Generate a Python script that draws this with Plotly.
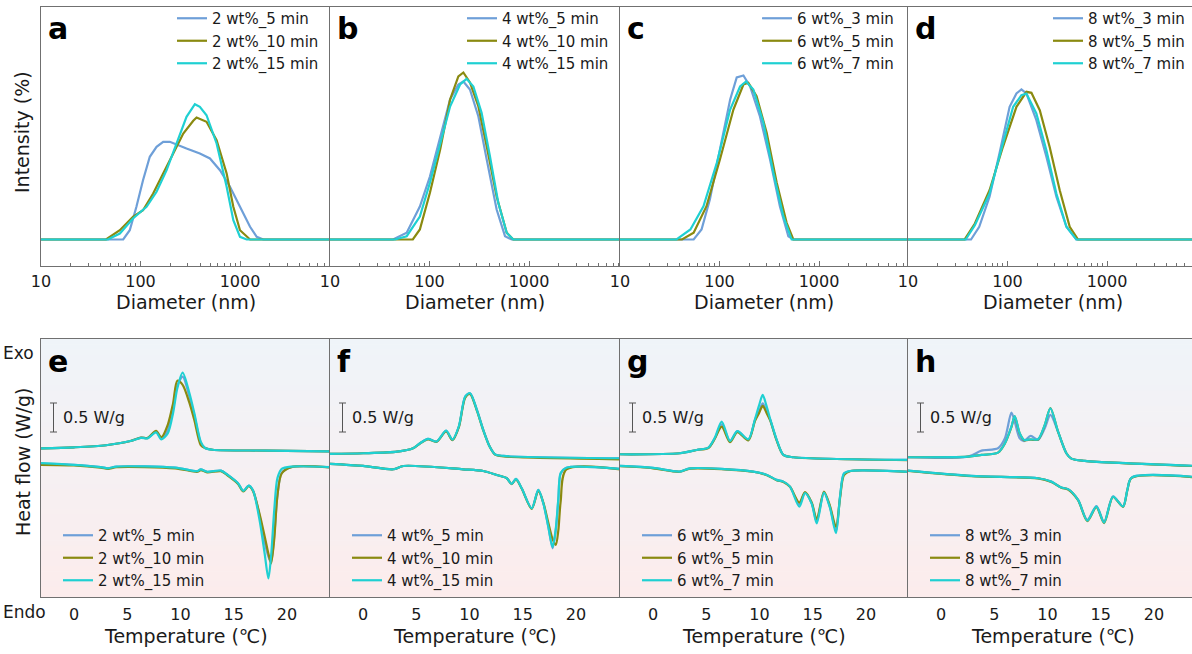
import plotly.graph_objects as go

# ======================= DATA =======================
# --- DLS (top row): diameter (nm) / intensity (%) ---
A_D5 = [67, 78, 91, 106, 124, 145, 169, 197, 230, 290, 395, 499, 629, 793, 1000, 1262, 1472, 1718]
A_I5 = [0, 0.93, 3.27, 5.93, 8.27, 9.27, 9.77, 9.77, 9.53, 9.1, 8.6, 8.1, 6.93, 5.27, 3.27, 1.27, 0.27, 0]
A_D10 = [45, 62, 84, 106, 134, 169, 213, 269, 339, 366, 461, 582, 734, 857, 1000, 1262]
A_I10 = [0, 0.93, 2.27, 2.93, 4.6, 6.6, 8.6, 10.6, 11.87, 12.2, 11.77, 9.93, 6.6, 3.27, 0.93, 0]
A_D15 = [47, 62, 84, 115, 145, 183, 230, 290, 352, 395, 461, 582, 734, 857, 1000, 1167]
A_I15 = [0, 0.6, 2.1, 3.27, 4.77, 6.93, 9.6, 12.27, 13.53, 13.27, 12.43, 9.6, 5.27, 1.93, 0.27, 0]

B_D5 = [43, 59, 80, 101, 128, 161, 195, 219, 255, 310, 376, 473, 574, 670]
B_I5 = [0, 0.67, 3.3, 6.3, 10.3, 14.0, 15.5, 15.8, 15.0, 12.3, 8.0, 3.0, 0.33, 0]
B_D10 = [68, 80, 101, 128, 161, 195, 219, 255, 310, 376, 473, 597, 695]
B_I10 = [0, 1.0, 4.67, 9.0, 14.0, 16.3, 16.7, 15.7, 13.3, 9.3, 4.3, 0.67, 0]
B_D15 = [45, 59, 80, 101, 128, 161, 203, 236, 276, 334, 405, 491, 597, 695]
B_I15 = [0, 0.33, 2.3, 5.67, 9.67, 13.3, 15.5, 16.07, 15.3, 12.67, 8.33, 3.67, 0.67, 0]

C_D3 = [55, 66, 80, 101, 128, 149, 174, 203, 255, 322, 405, 492, 552]
C_I3 = [0, 1.0, 4.0, 9.0, 14.0, 16.2, 16.4, 15.3, 12.3, 8.0, 3.3, 0.33, 0]
C_D5 = [42, 55, 74, 101, 138, 174, 195, 236, 298, 376, 473, 552]
C_I5 = [0, 0.67, 3.33, 8.0, 13.0, 15.5, 15.67, 14.33, 10.67, 5.67, 1.67, 0]
C_D7 = [37, 51, 69, 94, 128, 161, 185, 219, 276, 348, 438, 531]
C_I7 = [0, 1.0, 3.33, 7.67, 13.0, 15.3, 15.8, 15.0, 11.67, 6.67, 2.33, 0]

D_D3 = [43, 52, 66, 83, 105, 123, 138, 155, 195, 246, 310, 391, 492]
D_I3 = [0, 1.27, 4.27, 8.6, 13.27, 14.6, 15.0, 14.6, 11.93, 8.27, 4.27, 1.27, 0]
D_D5 = [37, 47, 66, 90, 123, 155, 174, 211, 265, 335, 422, 512]
D_I5 = [0, 1.6, 4.93, 9.27, 13.27, 14.77, 14.67, 12.93, 9.27, 4.93, 1.27, 0]
D_D7 = [38, 47, 66, 90, 114, 138, 155, 195, 246, 310, 391, 492]
D_I7 = [0, 1.43, 4.6, 9.6, 13.27, 14.43, 14.6, 12.6, 8.93, 4.6, 1.27, 0]

DLS_BASE_D = [9, 10000]   # flat zero baseline ends

# --- DSC (bottom row): temperature (degC) / heat flow (W/g) ---
E_TC = [-3.1, 0, 3, 5.3, 6.3, 6.9, 7.7, 8.2, 8.8, 9.3, 9.7, 10.2, 10.8, 11.3, 11.9, 12.3, 13, 18, 24.2]
E_C5 = [-0.435, -0.418, -0.383, -0.31, -0.25, -0.26, -0.15, -0.26, -0.12, 0.24, 0.64, 0.80, 0.48, 0.13, -0.34, -0.43, -0.46, -0.475, -0.49]
E_C10 = [-0.435, -0.418, -0.383, -0.31, -0.25, -0.257, -0.136, -0.245, -0.03, 0.34, 0.73, 0.66, 0.37, 0.05, -0.38, -0.43, -0.46, -0.475, -0.49]
E_C15 = [-0.435, -0.418, -0.383, -0.31, -0.255, -0.265, -0.16, -0.28, -0.18, 0.17, 0.60, 0.87, 0.54, 0.17, -0.32, -0.43, -0.46, -0.475, -0.49]
E_TH = [-3.1, 0, 2.5, 3.2, 4, 9.5, 11.6, 11.9, 12.5, 13.8, 14.4, 15.4, 15.9, 16.4, 16.8, 17.4, 17.9, 18.25, 18.5, 18.8, 19.1, 19.5, 20.4, 24.2]
E_H5 = [-0.70, -0.72, -0.76, -0.78, -0.75, -0.77, -0.83, -0.80, -0.84, -0.82, -0.89, -1.04, -1.17, -1.08, -1.16, -1.58, -2.05, -2.30, -2.40, -1.95, -1.25, -0.86, -0.76, -0.765]
E_H10 = [-0.72, -0.73, -0.77, -0.79, -0.76, -0.78, -0.84, -0.81, -0.85, -0.83, -0.90, -1.05, -1.18, -1.09, -1.17, -1.55, -1.95, -2.25, -2.42, -2.0, -1.25, -0.87, -0.76, -0.765]
E_H15 = [-0.69, -0.72, -0.76, -0.78, -0.75, -0.77, -0.83, -0.80, -0.84, -0.82, -0.89, -1.04, -1.17, -1.08, -1.16, -1.65, -2.25, -2.68, -2.3, -1.5, -0.95, -0.79, -0.75, -0.76]

F_TC = [-3.1, 0, 3.2, 4.7, 5.35, 6.1, 6.9, 7.8, 8.4, 9.0, 9.6, 10.05, 10.7, 11.3, 11.9, 12.4, 13.2, 24.2]
F_C5 = [-0.533, -0.521, -0.493, -0.435, -0.349, -0.274, -0.32, -0.136, -0.29, -0.061, 0.456, 0.513, 0.226, -0.119, -0.406, -0.54, -0.567, -0.607]
F_C10 = [-0.533, -0.521, -0.493, -0.435, -0.352, -0.28, -0.325, -0.145, -0.295, -0.07, 0.44, 0.50, 0.21, -0.13, -0.41, -0.545, -0.575, -0.625]
F_C15 = [-0.533, -0.521, -0.493, -0.435, -0.349, -0.272, -0.318, -0.13, -0.285, -0.055, 0.46, 0.515, 0.22, -0.125, -0.41, -0.54, -0.567, -0.607]
F_TH = [-3.1, 0, 2.85, 3.8, 9.4, 11.3, 12.55, 13.5, 13.96, 14.36, 14.9, 15.84, 16.46, 16.93, 17.4, 17.8, 18.1, 18.34, 18.56, 19.1, 24.2]
F_H5 = [-0.705, -0.74, -0.797, -0.74, -0.797, -0.826, -0.895, -0.952, -1.05, -0.964, -1.125, -1.47, -1.153, -1.383, -1.79, -2.16, -1.85, -1.33, -0.87, -0.77, -0.79]
F_H10 = [-0.705, -0.74, -0.797, -0.74, -0.797, -0.826, -0.895, -0.952, -1.055, -0.97, -1.13, -1.48, -1.17, -1.37, -1.72, -2.0, -2.10, -1.85, -1.35, -0.80, -0.80]
F_H15 = [-0.705, -0.74, -0.797, -0.74, -0.797, -0.826, -0.895, -0.952, -1.05, -0.964, -1.125, -1.47, -1.15, -1.383, -1.79, -2.14, -1.82, -1.30, -0.86, -0.77, -0.79]

G_TC = [-3.1, 2.5, 4.1, 5.2, 5.8, 6.45, 7.23, 7.92, 8.95, 9.58, 9.95, 10.3, 10.65, 11.0, 11.6, 12.24, 13.2, 24.2]
G_C3 = [-0.538, -0.521, -0.464, -0.424, -0.263, -0.02, -0.31, -0.14, -0.285, 0.06, 0.20, 0.34, 0.21, 0.06, -0.29, -0.55, -0.59, -0.636]
G_C5 = [-0.538, -0.521, -0.464, -0.43, -0.27, -0.061, -0.33, -0.155, -0.30, 0.04, 0.17, 0.295, 0.18, 0.045, -0.295, -0.55, -0.59, -0.64]
G_C7 = [-0.538, -0.521, -0.464, -0.424, -0.255, 0.025, -0.31, -0.14, -0.28, 0.07, 0.30, 0.485, 0.30, 0.07, -0.28, -0.55, -0.59, -0.636]
G_TH = [-3.1, 0, 2.5, 3.5, 9.4, 10.7, 11.6, 12.24, 12.86, 13.74, 14.27, 14.9, 15.37, 16.05, 16.6, 17.18, 17.56, 17.93, 18.5, 24.2]
G_H3 = [-0.74, -0.774, -0.837, -0.78, -0.837, -0.895, -0.98, -1.01, -1.096, -1.40, -1.20, -1.383, -1.70, -1.194, -1.44, -1.86, -1.27, -0.87, -0.826, -0.843]
G_H5 = [-0.745, -0.78, -0.84, -0.785, -0.84, -0.9, -0.985, -1.015, -1.10, -1.37, -1.19, -1.37, -1.66, -1.18, -1.42, -1.79, -1.30, -0.90, -0.83, -0.845]
G_H7 = [-0.74, -0.774, -0.837, -0.78, -0.837, -0.895, -0.98, -1.01, -1.096, -1.44, -1.21, -1.39, -1.73, -1.20, -1.45, -1.90, -1.27, -0.87, -0.826, -0.843]

H_TC = [-3.1, 2.54, 3.8, 5.35, 6.0, 6.61, 6.92, 7.39, 7.8, 8.42, 9.11, 9.74, 10.27, 10.99, 11.77, 12.24, 13.5, 24.2]
H_C3 = [-0.59, -0.579, -0.475, -0.435, -0.263, 0.18, 0.025, -0.263, -0.31, -0.22, -0.29, -0.09, 0.14, -0.148, -0.52, -0.613, -0.653, -0.74]
H_C5 = [-0.59, -0.579, -0.55, -0.51, -0.35, -0.07, 0.115, -0.18, -0.295, -0.285, -0.285, -0.035, 0.26, -0.15, -0.52, -0.613, -0.653, -0.745]
H_C7 = [-0.59, -0.579, -0.55, -0.51, -0.349, -0.061, 0.122, -0.176, -0.29, -0.28, -0.28, -0.033, 0.255, -0.148, -0.52, -0.613, -0.653, -0.74]
H_TH = [-3.1, 2.85, 9.11, 10.36, 11.3, 11.93, 12.87, 13.74, 14.59, 15.31, 16.15, 17.09, 17.5, 17.9, 24.2]
H_H3 = [-0.82, -0.912, -0.952, -1.01, -1.113, -1.14, -1.326, -1.67, -1.43, -1.70, -1.265, -1.435, -1.15, -0.94, -0.935]
H_H5 = [-0.825, -0.915, -0.955, -1.015, -1.115, -1.145, -1.33, -1.69, -1.45, -1.725, -1.275, -1.445, -1.155, -0.945, -0.94]
H_H7 = [-0.82, -0.912, -0.952, -1.01, -1.113, -1.14, -1.326, -1.682, -1.44, -1.717, -1.27, -1.44, -1.15, -0.94, -0.935]

TOP_NAMES = [["2 wt%_5 min", "2 wt%_10 min", "2 wt%_15 min"],
             ["4 wt%_5 min", "4 wt%_10 min", "4 wt%_15 min"],
             ["6 wt%_3 min", "6 wt%_5 min", "6 wt%_7 min"],
             ["8 wt%_3 min", "8 wt%_5 min", "8 wt%_7 min"]]
TOP_LETTERS = ["a", "b", "c", "d"]
BOT_LETTERS = ["e", "f", "g", "h"]
TOP_DATA = [[(A_D5, A_I5), (A_D10, A_I10), (A_D15, A_I15)],
            [(B_D5, B_I5), (B_D10, B_I10), (B_D15, B_I15)],
            [(C_D3, C_I3), (C_D5, C_I5), (C_D7, C_I7)],
            [(D_D3, D_I3), (D_D5, D_I5), (D_D7, D_I7)]]
BOT_DATA = [(E_TC, [E_C5, E_C10, E_C15], E_TH, [E_H5, E_H10, E_H15]),
            (F_TC, [F_C5, F_C10, F_C15], F_TH, [F_H5, F_H10, F_H15]),
            (G_TC, [G_C3, G_C5, G_C7], G_TH, [G_H3, G_H5, G_H7]),
            (H_TC, [H_C3, H_C5, H_C7], H_TH, [H_H3, H_H5, H_H7])]

TOP_TICKS = [10, 100, 1000]
TOP_TICKTEXT = ["10", "100", "1000"]
TOP_MINOR = [20, 30, 40, 50, 60, 70, 80, 90, 200, 300, 400, 500, 600, 700, 800, 900,
             2000, 3000, 4000, 5000, 6000, 7000, 8000, 9000]
BOT_TICKS = [0, 5, 10, 15, 20]
SCALE_BAR = 0.5

COLORS = ["#6e9fd8", "#8a8a10", "#1fd0d2"]

# ======================= LAYOUT GEOMETRY =======================
W, H = 1192, 654
X_EDGES = [41, 330, 620, 908, 1192]
TOP_PX = (7, 265.5)
BOT_PX = (339, 597)
DEC_PX = 99.5          # px per decade (top)
DEG_PX = 10.65         # px per degC (bottom)
T_MIN = -3.1
TOP_YR = [-2.6, 23.25]
BOT_YR = [-3.0, 1.45]
FONT = "DejaVu Sans"
AX_COL = "#707070"
TXT = "#1a1a1a"
TOP_TEXT_X = [205, 495, 790, 1081]   # legend text start (px)
BOT_TEXT_X = [91, 380, 670, 958]
LEG_TXT_OFF = 33
LEG_FS = 15


def xp(p):
    return p / W


def yp(p):
    return 1 - p / H


def bv(py):  # bottom-row pixel -> heat-flow value
    return BOT_YR[1] - (py - BOT_PX[0]) / (BOT_PX[1] - BOT_PX[0]) * (BOT_YR[1] - BOT_YR[0])


fig = go.Figure()
layout = {}
annotations = []
shapes = []

# gradient background for DSC row
TOP_C = (239, 244, 249)
BOT_C = (252, 236, 236)
NB = 50
band = (BOT_PX[1] - BOT_PX[0]) / NB
for k in range(NB):
    t = (k + 0.5) / NB
    c = tuple(round(TOP_C[j] + (BOT_C[j] - TOP_C[j]) * t) for j in range(3))
    y0 = BOT_PX[0] + k * band
    shapes.append(dict(type="rect", xref="paper", yref="paper", layer="below",
                       x0=xp(X_EDGES[0]), x1=1.0, y0=yp(min(y0 + band + 0.6, BOT_PX[1])), y1=yp(y0),
                       fillcolor="rgb(%d,%d,%d)" % c, line=dict(width=0)))

for i in range(4):
    nt, nb = i + 1, i + 5
    x0, x1 = X_EDGES[i], X_EDGES[i + 1]
    wpx = x1 - x0
    xt = "x" if nt == 1 else "x%d" % nt
    yt = "y" if nt == 1 else "y%d" % nt
    xb, yb = "x%d" % nb, "y%d" % nb
    lt = "legend" if nt == 1 else "legend%d" % nt
    lb = "legend%d" % nb

    common_x = dict(showgrid=False, zeroline=False, showline=True, mirror=True,
                    linecolor=AX_COL, linewidth=1, automargin=False,
                    tickfont=dict(family=FONT, size=16, color=TXT))
    common_y = dict(showgrid=False, zeroline=False, showline=True, linecolor=AX_COL,
                    linewidth=1, showticklabels=False, ticks="", automargin=False)

    layout["xaxis" if nt == 1 else "xaxis%d" % nt] = dict(
        common_x, domain=[xp(x0), xp(x1)], anchor=yt, type="log",
        range=[1, 1 + wpx / DEC_PX], tickvals=TOP_TICKS, ticktext=TOP_TICKTEXT,
        ticks="inside", ticklen=5, tickcolor=AX_COL, ticklabelstandoff=1,
        minor=dict(tickvals=TOP_MINOR, ticks="inside", ticklen=3, tickcolor=AX_COL))
    layout["yaxis" if nt == 1 else "yaxis%d" % nt] = dict(
        common_y, domain=[yp(TOP_PX[1]), yp(TOP_PX[0])], anchor=xt, range=TOP_YR)
    layout["xaxis%d" % nb] = dict(
        common_x, domain=[xp(x0), xp(x1)], anchor=yb,
        range=[T_MIN, T_MIN + wpx / DEG_PX], tickvals=BOT_TICKS, ticks="",
        ticklabelstandoff=3)
    layout["yaxis%d" % nb] = dict(
        common_y, domain=[yp(BOT_PX[1]), yp(BOT_PX[0])], anchor=xb, range=BOT_YR)

    # DLS traces
    for s in range(3):
        d, v = TOP_DATA[i][s]
        fig.add_trace(go.Scatter(
            x=[DLS_BASE_D[0]] + d + [DLS_BASE_D[1]], y=[0] + v + [0],
            xaxis=xt, yaxis=yt, mode="lines", name=TOP_NAMES[i][s], legend=lt,
            line=dict(color=COLORS[s], width=2.2)))
    # DSC traces
    tc, cools, th, heats = BOT_DATA[i]
    for s in range(3):
        fig.add_trace(go.Scatter(
            x=tc, y=cools[s], xaxis=xb, yaxis=yb, mode="lines",
            name=TOP_NAMES[i][s], legend=lb, legendgroup="g%d_%d" % (nb, s),
            line=dict(color=COLORS[s], width=2.2, shape="spline", smoothing=0.8)))
        fig.add_trace(go.Scatter(
            x=th, y=heats[s], xaxis=xb, yaxis=yb, mode="lines", showlegend=False,
            legend=lb, legendgroup="g%d_%d" % (nb, s),
            line=dict(color=COLORS[s], width=2.2, shape="spline", smoothing=0.8)))

    leg_common = dict(font=dict(family=FONT, size=LEG_FS, color=TXT), bgcolor="rgba(0,0,0,0)",
                      xanchor="left", yanchor="top", tracegroupgap=0, borderwidth=0)
    layout[lt] = dict(leg_common, x=xp(TOP_TEXT_X[i] - LEG_TXT_OFF), y=yp(2))
    layout[lb] = dict(leg_common, x=xp(BOT_TEXT_X[i] - LEG_TXT_OFF), y=yp(519))

    # panel letters
    annotations.append(dict(text="<b>%s</b>" % TOP_LETTERS[i], xref="paper", yref="paper",
                            x=xp(x0 + 5), y=yp(28), xanchor="left", yanchor="middle",
                            showarrow=False, font=dict(family=FONT, size=30, color="#000")))
    annotations.append(dict(text="<b>%s</b>" % BOT_LETTERS[i], xref="paper", yref="paper",
                            x=xp(x0 + 5), y=yp(361), xanchor="left", yanchor="middle",
                            showarrow=False, font=dict(family=FONT, size=30, color="#000")))
    # x axis titles
    cx = (x0 + x1) / 2 if i < 3 else (x0 + x0 + 290) / 2
    annotations.append(dict(text="Diameter (nm)", xref="paper", yref="paper",
                            x=xp(cx), y=yp(302), xanchor="center", yanchor="middle",
                            showarrow=False, font=dict(family=FONT, size=19, color=TXT)))
    annotations.append(dict(text="Temperature (\u2103)", xref="paper", yref="paper",
                            x=xp(cx), y=yp(636), xanchor="center", yanchor="middle",
                            showarrow=False, font=dict(family=FONT, size=19, color=TXT)))
    # scale bar
    sbx = x0 + 12.5
    sb_lo = bv(432)
    sb_hi = sb_lo + SCALE_BAR
    shapes.append(dict(type="line", xref="paper", yref=yb, x0=xp(sbx), x1=xp(sbx),
                       y0=sb_lo, y1=sb_hi, line=dict(color="#555", width=1)))
    for yy in (sb_lo, sb_hi):
        shapes.append(dict(type="line", xref="paper", yref=yb, x0=xp(sbx - 3.5),
                           x1=xp(sbx + 3.5), y0=yy, y1=yy, line=dict(color="#555", width=1)))
    annotations.append(dict(text="0.5 W/g", xref="paper", yref=yb,
                            x=xp(sbx + 7.5), y=(sb_lo + sb_hi) / 2, xanchor="left",
                            yanchor="middle", showarrow=False,
                            font=dict(family=FONT, size=16, color=TXT)))

annotations += [
    dict(text="Intensity (%)", xref="paper", yref="paper", x=xp(22), y=yp(132),
         textangle=-90, showarrow=False, xanchor="center", yanchor="middle",
         font=dict(family=FONT, size=19, color=TXT)),
    dict(text="Heat flow (W/g)", xref="paper", yref="paper", x=xp(23), y=yp(462),
         textangle=-90, showarrow=False, xanchor="center", yanchor="middle",
         font=dict(family=FONT, size=19, color=TXT)),
    dict(text="Exo", xref="paper", yref="paper", x=xp(1), y=yp(353),
         xanchor="left", yanchor="middle", showarrow=False,
         font=dict(family=FONT, size=17, color=TXT)),
    dict(text="Endo", xref="paper", yref="paper", x=xp(1), y=yp(612),
         xanchor="left", yanchor="middle", showarrow=False,
         font=dict(family=FONT, size=17, color=TXT)),
]

fig.update_layout(
    width=W, height=H, margin=dict(l=0, r=0, t=0, b=0, autoexpand=False),
    paper_bgcolor="white", plot_bgcolor="rgba(0,0,0,0)",
    font=dict(family=FONT, color=TXT),
    annotations=annotations, shapes=shapes, showlegend=True,
    **layout)

fig.write_html("out.html")
